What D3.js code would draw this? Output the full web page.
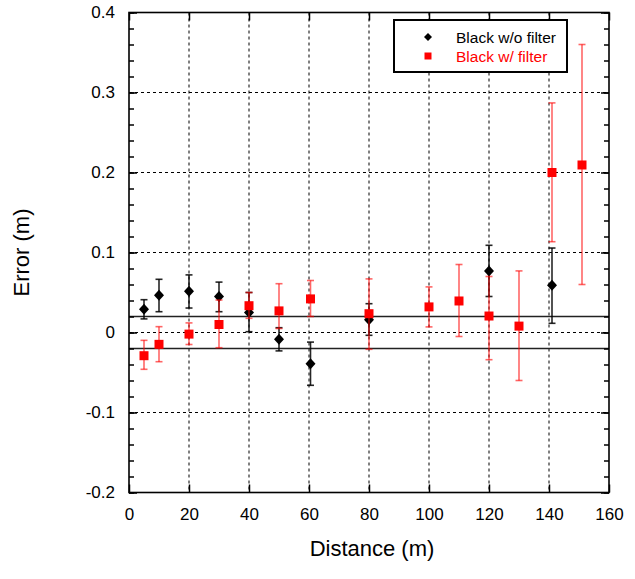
<!DOCTYPE html>
<html>
<head>
<meta charset="utf-8">
<script src="https://cdn.jsdelivr.net/npm/d3@7"></script>
<style>
  html, body { margin: 0; padding: 0; background: #fff; }
  svg { display: block; font-family: Arial, "Liberation Sans", sans-serif; }
</style>
</head>
<body>
<svg id="chart" width="635" height="579"></svg>
<script>
// ---------- data ----------
const seriesNames = ["Black w/o filter", "Black w/ filter"];
const seriesColors = ["#000000", "#ff0000"];

const xBlack  = [5, 10, 20, 30, 40, 50, 60.5, 80, 120, 141];
const yBlack  = [0.029, 0.0465, 0.0515, 0.045, 0.025, -0.0085, -0.039, 0.016, 0.077, 0.059];
const hiBlack = [0.041, 0.0665, 0.072, 0.063, 0.05, 0.006, -0.012, 0.036, 0.109, 0.1056];
const loBlack = [0.017, 0.026, 0.0306, 0.026, 0.001, -0.023, -0.066, -0.0035, 0.045, 0.0115];

const xRed  = [5, 10, 20, 30, 40, 50, 60.5, 80, 100, 110, 120, 130, 141, 151];
const yRed  = [-0.029, -0.0148, -0.002, 0.010, 0.0335, 0.027, 0.042, 0.0235, 0.032, 0.0394, 0.0206, 0.008, 0.200, 0.2094];
const hiRed = [-0.0098, 0.0073, 0.012, 0.0406, 0.050, 0.061, 0.065, 0.067, 0.057, 0.085, 0.07, 0.077, 0.287, 0.36];
const loRed = [-0.046, -0.0365, -0.015, -0.019, 0.0177, 0.005, 0.020, -0.021, 0.007, -0.005, -0.034, -0.060, 0.1135, 0.060];

const xTicks = [0, 20, 40, 60, 80, 100, 120, 140, 160];
const xTickLabels = ["0", "20", "40", "60", "80", "100", "120", "140", "160"];
const yTicks = [-0.2, -0.1, 0, 0.1, 0.2, 0.3, 0.4];
const yTickLabels = ["-0.2", "-0.1", "0", "0.1", "0.2", "0.3", "0.4"];
const yMinorTicks = d3.range(-0.2, 0.4001, 0.02);
const refLines = [0.02, -0.02];

const xTitle = "Distance (m)";
const yTitle = "Error (m)";

// ---------- layout ----------
const L = 129, R = 609, T = 12.5, B = 492.5;
const svg = d3.select("#chart");
const x = d3.scaleLinear().domain([0, 160]).range([L, R]);
const y = d3.scaleLinear().domain([-0.2, 0.4]).range([B, T]);

// gridlines
const grid = svg.append("g");
grid.selectAll("line.vx").data(xTicks.slice(1, -1)).join("line")
  .attr("x1", d => x(d)).attr("x2", d => x(d)).attr("y1", T).attr("y2", B)
  .attr("stroke", "#000").attr("stroke-width", 1).attr("stroke-dasharray", "3,3");
grid.selectAll("line.hy").data(yTicks.slice(1, -1)).join("line")
  .attr("x1", L).attr("x2", R).attr("y1", d => y(d)).attr("y2", d => y(d))
  .attr("stroke", "#000").attr("stroke-width", 1).attr("stroke-dasharray", "3,3");

// reference lines at +/-0.02
svg.append("g").selectAll("line").data(refLines).join("line")
  .attr("x1", L).attr("x2", R).attr("y1", d => y(d)).attr("y2", d => y(d))
  .attr("stroke", "#222").attr("stroke-width", 1.3);

// axes
const fmtX = d => xTickLabels[xTicks.indexOf(d)];
const fmtY = d => { const i = yTicks.findIndex(t => Math.abs(t - d) < 1e-9); return yTickLabels[i]; };

const axL = svg.append("g").attr("transform", `translate(${L},0)`)
  .call(d3.axisLeft(y).tickValues(yTicks).tickFormat(fmtY).tickSize(-8).tickPadding(14));
const axB = svg.append("g").attr("transform", `translate(0,${B})`)
  .call(d3.axisBottom(x).tickValues(xTicks).tickFormat(fmtX).tickSize(-8).tickPadding(15));
const axR = svg.append("g").attr("transform", `translate(${R},0)`)
  .call(d3.axisRight(y).tickValues(yTicks).tickFormat("").tickSize(-8));
const axT = svg.append("g").attr("transform", `translate(0,${T})`)
  .call(d3.axisTop(x).tickValues(xTicks).tickFormat("").tickSize(-8));
const mnL = svg.append("g").attr("transform", `translate(${L},0)`)
  .call(d3.axisLeft(y).tickValues(yMinorTicks).tickFormat("").tickSize(-5));
const mnR = svg.append("g").attr("transform", `translate(${R},0)`)
  .call(d3.axisRight(y).tickValues(yMinorTicks).tickFormat("").tickSize(-5));

[axL, axB, axR, axT, mnL, mnR].forEach(g => {
  g.select(".domain").remove();
  g.selectAll(".tick line").attr("stroke", "#000").attr("stroke-width", 1.5);
  g.selectAll("text").attr("font-size", 17).attr("fill", "#000")
    .attr("font-family", "Arial, 'Liberation Sans', sans-serif");
});

// frame
svg.append("rect").attr("x", L).attr("y", T).attr("width", R - L).attr("height", B - T)
  .attr("fill", "none").attr("stroke", "#000").attr("stroke-width", 1.6);

// error bars + markers
function drawSeries(xs, ys, his, los, color, opacity, marker) {
  const data = xs.map((v, i) => ({ x: v, y: ys[i], hi: his[i], lo: los[i] }));
  const g = svg.append("g");
  const eb = g.append("g").attr("stroke", color).attr("stroke-opacity", opacity).attr("stroke-width", 1.6);
  eb.selectAll("line.v").data(data).join("line")
    .attr("x1", d => x(d.x)).attr("x2", d => x(d.x)).attr("y1", d => y(d.hi)).attr("y2", d => y(d.lo));
  eb.selectAll("line.t").data(data).join("line")
    .attr("x1", d => x(d.x) - 3.5).attr("x2", d => x(d.x) + 3.5).attr("y1", d => y(d.hi)).attr("y2", d => y(d.hi));
  eb.selectAll("line.b").data(data).join("line")
    .attr("x1", d => x(d.x) - 3.5).attr("x2", d => x(d.x) + 3.5).attr("y1", d => y(d.lo)).attr("y2", d => y(d.lo));
  g.selectAll("path.m").data(data).join("path")
    .attr("transform", d => `translate(${x(d.x)},${y(d.y)})`)
    .attr("d", marker).attr("fill", color);
}
const diamond = "M0,-5.5L5,0L0,5.5L-5,0Z";
const square = "M-4.5,-4.5H4.5V4.5H-4.5Z";
drawSeries(xBlack, yBlack, hiBlack, loBlack, seriesColors[0], 0.85, diamond);
drawSeries(xRed, yRed, hiRed, loRed, seriesColors[1], 0.6, square);

// legend
const lg = svg.append("g");
lg.append("rect").attr("x", 394).attr("y", 20).attr("width", 173).attr("height", 52)
  .attr("fill", "#fff").attr("stroke", "#000").attr("stroke-width", 2);
const markers = [diamond, "M-3.5,-3.5H3.5V3.5H-3.5Z"];
const legendDiamond = "M0,-4L4,0L0,4L-4,0Z";
seriesNames.forEach((name, i) => {
  const cy = 37 + i * 19;
  lg.append("path").attr("transform", `translate(428,${cy})`)
    .attr("d", i === 0 ? legendDiamond : markers[1]).attr("fill", seriesColors[i]);
  lg.append("text").attr("x", 456).attr("y", cy + 5.5).attr("font-size", 15.5)
    .attr("fill", seriesColors[i]).text(name);
});

// titles
svg.append("text").attr("x", (L + R) / 2 + 3).attr("y", 556).attr("text-anchor", "middle")
  .attr("font-size", 22).attr("fill", "#000").text(xTitle);
svg.append("text").attr("transform", `translate(29,${(T + B) / 2}) rotate(-90)`)
  .attr("text-anchor", "middle").attr("font-size", 22).attr("fill", "#000").text(yTitle);
</script>
</body>
</html>
